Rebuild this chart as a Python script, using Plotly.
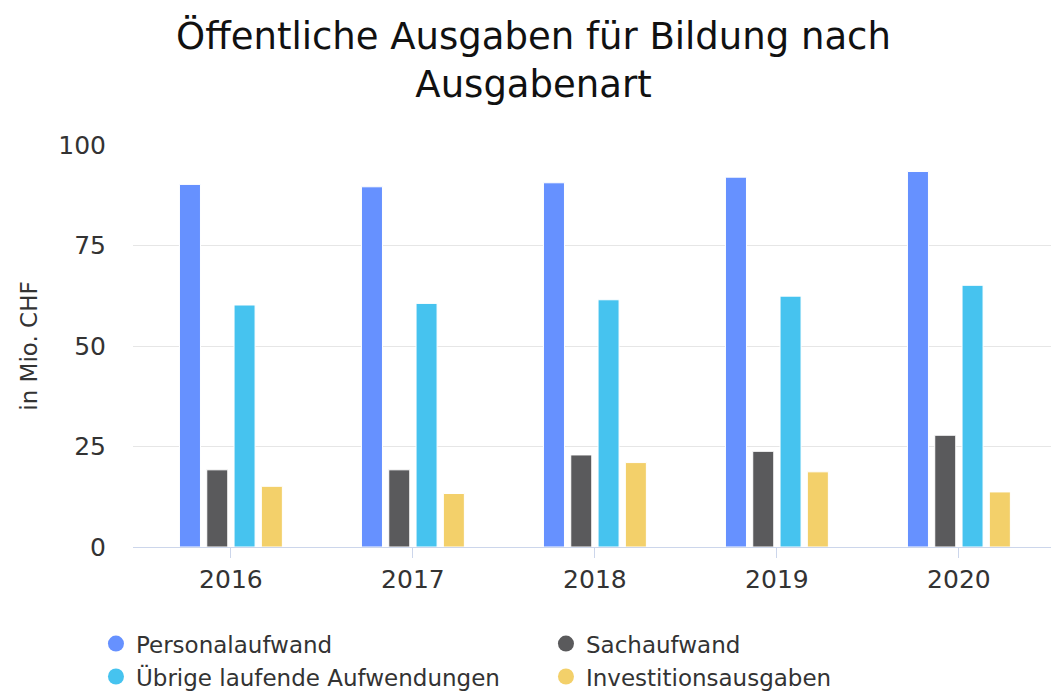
import plotly.graph_objects as go

years = ["2016", "2017", "2018", "2019", "2020"]
personalaufwand = [90.2, 89.6, 90.6, 92.0, 93.4]
sachaufwand = [19.2, 19.2, 22.9, 23.8, 27.8]
uebrige = [60.2, 60.6, 61.5, 62.4, 65.1]
investitionen = [15.1, 13.3, 21.0, 18.7, 13.7]

series = [
    ("Personalaufwand", personalaufwand, "#6691FF"),
    ("Sachaufwand", sachaufwand, "#5A5A5C"),
    ("Übrige laufende Aufwendungen", uebrige, "#46C3EF"),
    ("Investitionsausgaben", investitionen, "#F3D06A"),
]

FONT = "DejaVu Sans"
fig = go.Figure()
for name, vals, col in series:
    fig.add_trace(go.Bar(
        x=years, y=vals, name=name, marker=dict(color=col, line=dict(color="white", width=1)),
        showlegend=False,
    ))
for name, vals, col in series:
    fig.add_trace(go.Scatter(
        x=[None], y=[None], mode="markers", name=name,
        marker=dict(symbol="circle", size=21, color=col),
    ))

fig.update_layout(
    width=1051, height=690,
    margin=dict(l=125, r=0, t=137, b=151, autoexpand=False),
    paper_bgcolor="white", plot_bgcolor="white",
    font=dict(family=FONT, color="#333333", size=23),
    title=dict(
        text="Öffentliche Ausgaben für Bildung nach<br>Ausgabenart",
        x=0.5, xanchor="center", y=0.941, yanchor="top",
        font=dict(family=FONT, size=37, color="#111111"),
    ),
    barmode="group", bargap=0.4, bargroupgap=0.23,
    xaxis=dict(
        type="category", range=[-0.538, 4.55],
        showgrid=False, showline=True, linecolor="#ccd6eb", linewidth=1,
        ticks="outside", ticklen=10, tickcolor="#ccd6eb",
        tickfont=dict(size=25, color="#333333"),
    ),
    yaxis=dict(
        range=[0, 100], tickvals=[0, 25, 50, 75, 100],
        showgrid=True, gridcolor="#e6e6e6", gridwidth=1, zeroline=False,
        tickfont=dict(size=25, color="#333333"), ticklabelstandoff=26,
        title=dict(text="in Mio. CHF", font=dict(size=23, color="#333333"), standoff=14),
    ),
    legend=dict(
        orientation="h", x=-0.04, xanchor="left", y=-0.187, yanchor="top",
        entrywidth=405, entrywidthmode="pixels",
        font=dict(size=23, color="#333333"), itemsizing="trace",
        tracegroupgap=0,
    ),
)

fig.write_html("out.html")
